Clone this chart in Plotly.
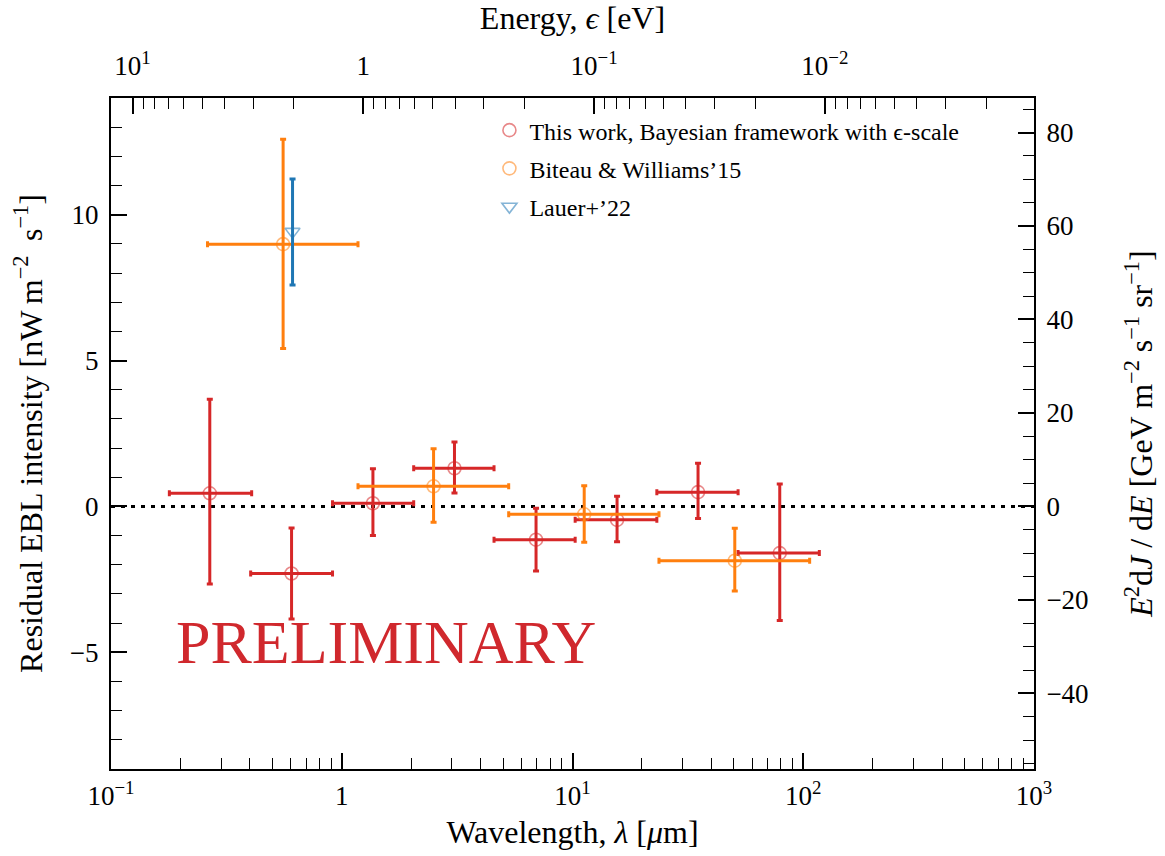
import numpy as np
import plotly.graph_objects as go

# ---- data: residual EBL intensity vs wavelength ----
# This work, Bayesian framework with epsilon-scale
tw_lam = [0.268, 0.606, 1.365, 3.08, 6.95, 15.6, 35.0, 79.1]
tw_lam_lo = [0.179, 0.403, 0.912, 2.05, 4.57, 10.27, 23.2, 52.2]
tw_lam_hi = [0.407, 0.912, 2.05, 4.57, 10.27, 23.2, 52.2, 117.4]
tw_val = [0.45, -2.30, 0.11, 1.31, -1.14, -0.46, 0.49, -1.60]
tw_lo = [-2.66, -3.86, -1.00, 0.46, -2.21, -1.21, -0.41, -3.91]
tw_hi = [3.67, -0.74, 1.29, 2.21, -0.06, 0.35, 1.48, 0.77]

# Biteau & Williams'15
bw_lam = [0.557, 2.50, 11.24, 50.5]
bw_lam_lo = [0.262, 1.176, 5.29, 23.7]
bw_lam_hi = [1.176, 5.29, 23.7, 106.6]
bw_val = [8.99, 0.69, -0.27, -1.86]
bw_lo = [5.41, -0.54, -1.23, -2.90]
bw_hi = [12.59, 1.98, 0.71, -0.75]

# Lauer+'22
la_lam = [0.612]
la_val = [9.42]
la_lo = [7.59]
la_hi = [11.22]

# axis settings
lam_range = [0.1, 1000.0]
y_range = [-9.0, 14.0]
HC = 1.23984          # eV um, energy <-> wavelength
NW_TO_GEV = 6.2415    # nW -> GeV s^-1

bottom_ticks = [0.1, 1, 10, 100, 1000]
bottom_text = ["10<sup>−1</sup>", "1", "10<sup>1</sup>", "10<sup>2</sup>", "10<sup>3</sup>"]
top_ticks = [10, 1, 0.1, 0.01]
top_text = ["10<sup>1</sup>", "1", "10<sup>−1</sup>", "10<sup>−2</sup>"]

RED = "#d62728"
ORANGE = "#ff7f0e"
BLUE = "#1f77b4"
FONT = "Liberation Serif"


def rgba(hex_color, a):
    h = hex_color.lstrip("#")
    r, g, b = int(h[0:2], 16), int(h[2:4], 16), int(h[4:6], 16)
    return f"rgba({r},{g},{b},{a})"


def minor_log(lo, hi):
    vals = []
    for k in range(int(np.floor(np.log10(lo))) - 1, int(np.ceil(np.log10(hi))) + 1):
        for m in range(2, 10):
            v = m * 10.0 ** k
            if lo < v < hi:
                vals.append(v)
    return vals


def errbar_trace(name, lam, lam_lo, lam_hi, val, lo, hi, color, symbol, size):
    lam = np.array(lam)
    val = np.array(val)
    tr = dict(
        x=lam, y=val, mode="markers", name=name, legendgroup=name,
        marker=dict(symbol=symbol, size=size, color=rgba(color, 0.55),
                    line=dict(color=rgba(color, 0.55), width=1.6)),
        error_y=dict(type="data", symmetric=False,
                     array=np.array(hi) - val, arrayminus=val - np.array(lo),
                     color=color, thickness=3, width=3),
    )
    if lam_lo is not None:
        tr["error_x"] = dict(type="data", symmetric=False,
                             array=np.array(lam_hi) - lam,
                             arrayminus=lam - np.array(lam_lo),
                             color=color, thickness=3, width=3)
    return go.Scatter(**tr)


fig = go.Figure()
fig.add_trace(errbar_trace("This work, Bayesian framework with ϵ-scale",
                           tw_lam, tw_lam_lo, tw_lam_hi, tw_val, tw_lo, tw_hi,
                           RED, "circle-open", 13))
fig.add_trace(errbar_trace("Biteau &amp; Williams’15",
                           bw_lam, bw_lam_lo, bw_lam_hi, bw_val, bw_lo, bw_hi,
                           ORANGE, "circle-open", 13))
fig.add_trace(errbar_trace("Lauer+’22", la_lam, None, None, la_val, la_lo, la_hi,
                           BLUE, "triangle-down-open", 13))

# invisible helpers so the secondary axes are rendered
fig.add_trace(go.Scatter(x=[HC], y=[0], xaxis="x2", yaxis="y", mode="markers",
                         marker=dict(opacity=0), showlegend=False, hoverinfo="skip"))
fig.add_trace(go.Scatter(x=[1], y=[0], xaxis="x", yaxis="y2", mode="markers",
                         marker=dict(opacity=0), showlegend=False, hoverinfo="skip"))

tick_font = dict(family=FONT, size=27, color="black")
title_font = dict(family=FONT, size=32, color="black")
axis_common = dict(showgrid=False, zeroline=False, showline=True, linecolor="black",
                   linewidth=2, ticks="inside", ticklen=16, tickwidth=1.5,
                   tickcolor="black", tickfont=tick_font)

sp = "\u2009"  # thin space

fig.update_layout(
    width=1165, height=856,
    margin=dict(l=111, r=129, t=98, b=87),
    paper_bgcolor="white", plot_bgcolor="white",
    font=dict(family=FONT, color="black"),
    xaxis=dict(
        type="log", range=[np.log10(lam_range[0]), np.log10(lam_range[1])],
        tickmode="array", tickvals=bottom_ticks, ticktext=bottom_text,
        minor=dict(tickmode="array", tickvals=minor_log(*lam_range), ticks="inside",
                   ticklen=11, tickwidth=1.2, tickcolor="black"),
        ticklabelstandoff=2,
        title=dict(text="Wavelength, <i>λ</i> [<i>μ</i>m]", font=title_font, standoff=10),
        mirror=True, **axis_common,
    ),
    xaxis2=dict(
        type="log", overlaying="x", side="top",
        range=[np.log10(HC / lam_range[0]), np.log10(HC / lam_range[1])],
        tickmode="array", tickvals=top_ticks, ticktext=top_text,
        minor=dict(tickmode="array", tickvals=minor_log(HC / lam_range[1], HC / lam_range[0]),
                   ticks="inside", ticklen=11, tickwidth=1.2, tickcolor="black"),
        ticklabelstandoff=10,
        title=dict(text="Energy, <i>ϵ</i> [eV]", font=title_font, standoff=8),
        **axis_common,
    ),
    yaxis=dict(
        range=y_range, tickmode="linear", tick0=0, dtick=5,
        minor=dict(dtick=1, ticks="inside", ticklen=11, tickwidth=1.2, tickcolor="black"),
        ticklabelstandoff=5,
        title=dict(text=f"Residual EBL intensity [nW{sp}m<sup>−2</sup>{sp} s<sup>−1</sup>]",
                   font=title_font, standoff=18),
        mirror=True, **axis_common,
    ),
    yaxis2=dict(
        overlaying="y", side="right",
        range=[y_range[0] * NW_TO_GEV, y_range[1] * NW_TO_GEV],
        tickmode="linear", tick0=0, dtick=20,
        minor=dict(dtick=5, ticks="inside", ticklen=11, tickwidth=1.2, tickcolor="black"),
        ticklabelstandoff=5,
        title=dict(text=(f"<i>E</i><sup>2</sup>d<i>J</i> / d<i>E</i> "
                         f"[GeV m<sup>−2</sup> s<sup>−1</sup> sr<sup>−1</sup>]"),
                   font=title_font, standoff=42),
        **axis_common,
    ),
    legend=dict(x=0.41, y=0.985, xanchor="left", yanchor="top",
                bgcolor="rgba(0,0,0,0)", font=dict(family=FONT, size=24, color="black"),
                tracegroupgap=4),
    showlegend=True,
)

# zero reference line
fig.add_shape(type="line", xref="paper", x0=0, x1=1, yref="y", y0=0, y1=0,
              line=dict(color="black", width=3, dash="4px,6px"), layer="below")

fig.add_annotation(text="PRELIMINARY", xref="paper", yref="paper",
                   x=0.2975, y=0.19, xanchor="center", yanchor="middle",
                   showarrow=False, font=dict(family=FONT, size=62, color="#d0282d"))

fig.write_html("out.html")
